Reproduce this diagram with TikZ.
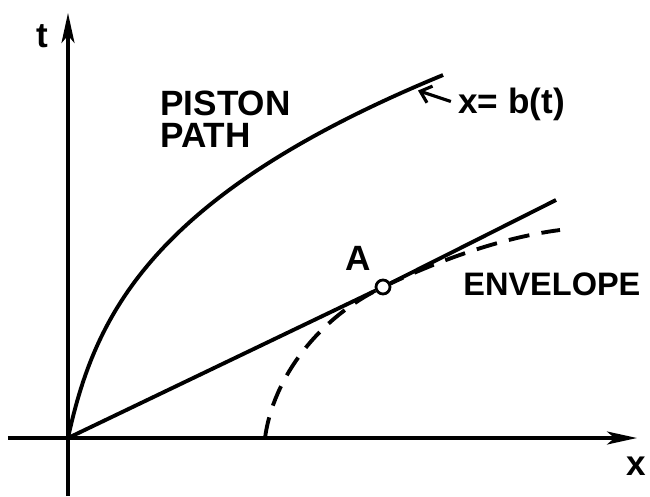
\documentclass[tikz,border=0pt]{standalone}
\usepackage{fontspec}
\setmainfont{Liberation Sans}
\usetikzlibrary{arrows.meta, positioning}

\begin{document}
\begin{tikzpicture}[
    lbl/.style      = {inner sep=0,
                       font=\fontsize{20}{24}\selectfont\bfseries},
    axis/.style     = {line width=1.8pt,
                       -{Stealth[length=6mm, width=2.6mm, inset=1.5mm]}},
    curve/.style    = {line width=2.2pt},
    envelope/.style = {line width=2.2pt,
                       dash pattern=on 12pt off 7pt},
    leader/.style   = {line width=1.8pt,
                       -{Straight Barb[length=2mm, width=3.5mm]}},
    point/.style    = {circle, draw, fill=white,
                       line width=1.6pt, inner sep=0,
                       minimum size=0.28cm}
]
\useasboundingbox (-1.36,-1.16) rectangle (11.64,8.76);

%% Axes
\coordinate (O)      at (0,0);
\coordinate (xstart) at (-1.2,0);
\coordinate (xend)   at (11.38,0);
\coordinate (tstart) at (0,-1.16);
\coordinate (tend)   at (0,8.5);
\draw[axis] (xstart) -- (xend);
\draw[axis] (tstart) -- (tend);
\node[lbl, anchor=base] (tlabel) at (-0.52,7.82) {t};
\node[lbl, anchor=base] (xlabel) at (11.36,-0.74) {x};

%% Piston path
\draw[curve] plot[domain=0:7.26, samples=60, variable=\t, smooth]
    ({0.2182*\t + 0.0324*\t^2 + 0.011*\t^3}, \t);
\node[lbl, anchor=base west] (piston) at (1.84,6.46) {PISTON};
\node[lbl, anchor=base west] (path)   at (1.84,5.82) {PATH};

%% Label x = b(t)
\coordinate (bt) at (7.0,6.95);
\node[lbl, anchor=base west] (xb) at (7.8,6.5) {x= b(t)};
\draw[leader, shorten <=1.5mm] (xb.west) -- (bt);

%% Envelope
\coordinate (Apt)    at (6.3,3.02);
\coordinate (envbot) at (3.94,0);
\coordinate (envend) at (9.84,4.16);
\draw[envelope] (envbot) .. controls (4.1,1.2) and (5.0,2.4) .. (Apt)
                         .. controls (7.3,3.5) and (8.6,4.0) .. (envend);
\node[lbl, anchor=base west, font=\fontsize{18.5}{22}\selectfont\bfseries]
    (env) at (7.9,2.86) {ENVELOPE};

%% Ray through A
\node[point] (A) at (Apt) {};
\node[lbl, above left=0.2cm and 0.12cm of A] (Alabel) {A};
\coordinate (rayend) at (9.76,4.76);
\draw[curve] (O) -- (A);
\draw[curve] (A) -- (rayend);
\end{tikzpicture}
\end{document}
